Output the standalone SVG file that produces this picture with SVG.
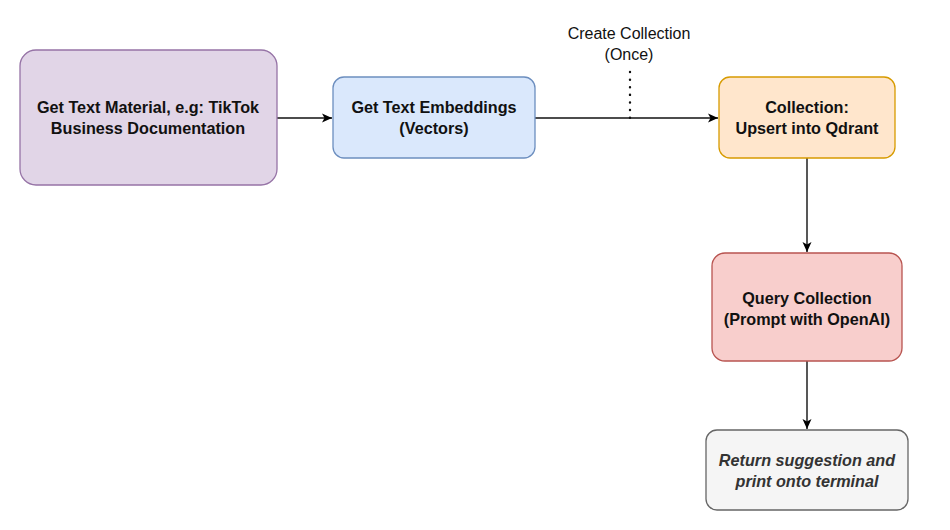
<svg xmlns="http://www.w3.org/2000/svg" width="950" height="530" viewBox="0 0 950 530">
<defs>
<marker id="arr" markerWidth="12" markerHeight="12" refX="11" refY="6" orient="auto" markerUnits="userSpaceOnUse">
<path d="M1,1.5 L11,6 L1,10.5 L3.5,6 Z" fill="#000"/>
</marker>
<style>
.t{font-family:"Liberation Sans",Arial,sans-serif;font-size:16.2px;font-weight:bold;fill:#111;text-anchor:middle}
.i{font-style:italic;fill:#333}
.l{font-family:"Liberation Sans",Arial,sans-serif;font-size:16px;fill:#111;text-anchor:middle}
.c{stroke:#111;stroke-width:1.4;fill:none}
</style>
</defs>
<rect width="950" height="530" fill="#fff"/>
<g id="connectors">
<line class="c" x1="277" y1="118" x2="332" y2="118" marker-end="url(#arr)"/>
<line class="c" x1="535" y1="118" x2="718" y2="118" marker-end="url(#arr)"/>
<line x1="630" y1="72" x2="630" y2="118" stroke="#111" stroke-width="2.4" stroke-dasharray="0.1 7.5" stroke-linecap="round"/>
<line class="c" x1="807" y1="158" x2="807" y2="252" marker-end="url(#arr)"/>
<line class="c" x1="807" y1="361" x2="807" y2="429" marker-end="url(#arr)"/>
</g>
<g id="label-create">
<text class="l" x="629" y="39">Create Collection</text>
<text class="l" x="629" y="60">(Once)</text>
</g>
<g id="node-material">
<rect x="20" y="50" width="257" height="135" rx="16" fill="#e1d5e7" stroke="#9673a6" stroke-width="1.3"/>
<text class="t" x="148" y="113">Get Text Material, e.g: TikTok</text>
<text class="t" x="148" y="134">Business Documentation</text>
</g>
<g id="node-embeddings">
<rect x="333" y="77" width="202" height="81" rx="11" fill="#dae8fc" stroke="#6c8ebf" stroke-width="1.3"/>
<text class="t" x="434" y="113">Get Text Embeddings</text>
<text class="t" x="434" y="134">(Vectors)</text>
</g>
<g id="node-collection">
<rect x="719" y="77" width="176" height="81" rx="11" fill="#ffe6cc" stroke="#d79b00" stroke-width="1.3"/>
<text class="t" x="807" y="113">Collection:</text>
<text class="t" x="807" y="134">Upsert into Qdrant</text>
</g>
<g id="node-query">
<rect x="712" y="253" width="190" height="108" rx="13" fill="#f8cecc" stroke="#b85450" stroke-width="1.3"/>
<text class="t" x="807" y="304">Query Collection</text>
<text class="t" x="807" y="325">(Prompt with OpenAI)</text>
</g>
<g id="node-return">
<rect x="706" y="430" width="202" height="80" rx="11" fill="#f5f5f5" stroke="#666666" stroke-width="1.3"/>
<text class="t i" x="807" y="466">Return suggestion and</text>
<text class="t i" x="807" y="487">print onto terminal</text>
</g>
</svg>
